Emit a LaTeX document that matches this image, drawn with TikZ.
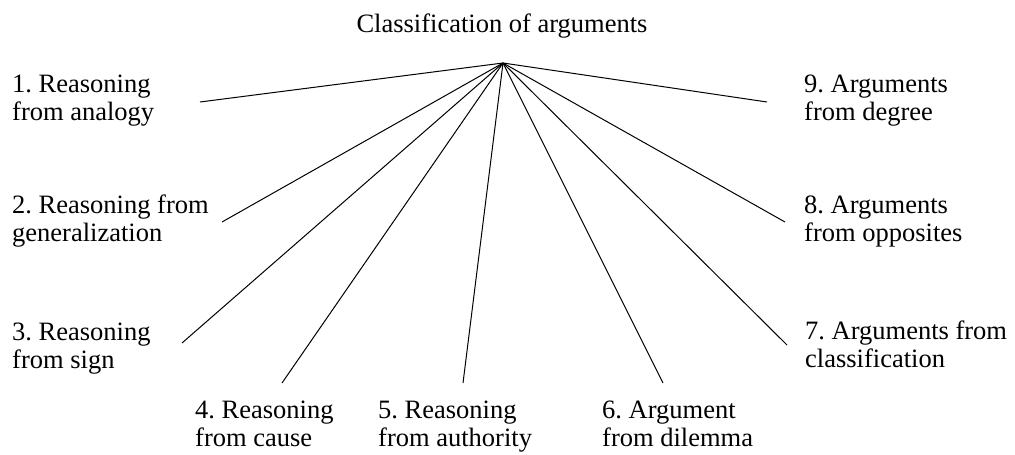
\documentclass[tikz,border=0pt]{standalone}
\usepackage{fontspec}
\setmainfont{Liberation Serif}
\frenchspacing
\begin{document}
\begin{tikzpicture}[x=1pt,y=-1pt,
  lbl/.style={anchor=base west,inner sep=0pt,align=left,font=\fontsize{26.5}{28}\selectfont\frenchspacing},
  ttl/.style={anchor=base,inner sep=0pt,font=\fontsize{26.5}{28}\selectfont},
  conn/.style={line width=1pt,black}]
\useasboundingbox[fill=white] (0,0) rectangle (1015,455);
\coordinate (hub) at (503,63);
\node[ttl] (title) at (502,32) {Classification of arguments};
\node[lbl] (l1) at (12,120) {1. Reasoning\\from analogy};
\node[lbl] (l2) at (12,241) {2. Reasoning from\\generalization};
\node[lbl] (l3) at (12,368) {3. Reasoning\\from sign};
\node[lbl] (l4) at (195,446) {4. Reasoning\\from cause};
\node[lbl] (l5) at (378,446) {5. Reasoning\\from authority};
\node[lbl] (l6) at (602,446) {6. Argument\\from dilemma};
\node[lbl] (l7) at (805,367) {7. Arguments from\\classification};
\node[lbl] (l8) at (804,241) {8. Arguments\\from opposites};
\node[lbl] (l9) at (804,120) {9. Arguments\\from degree};
\coordinate (e1) at (200,102);
\coordinate (e2) at (222,222);
\coordinate (e3) at (182,343);
\coordinate (e4) at (282,383);
\coordinate (e5) at (463,383);
\coordinate (e6) at (663,383);
\coordinate (e7) at (787,345);
\coordinate (e8) at (785,222);
\coordinate (e9) at (767,102);
\foreach \i in {1,...,9} \draw[conn] (hub) -- (e\i);
\end{tikzpicture}
\end{document}
